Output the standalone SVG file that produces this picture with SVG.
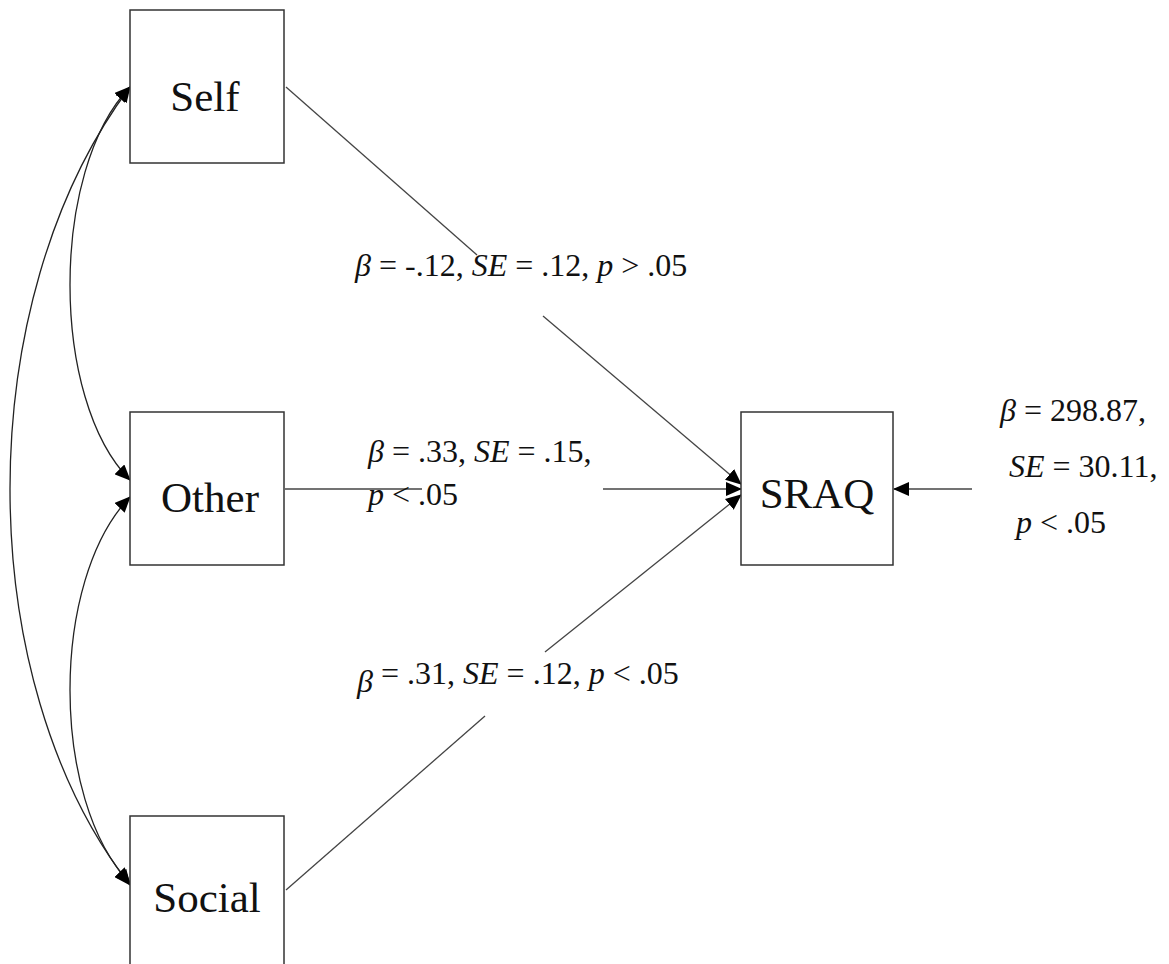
<svg xmlns="http://www.w3.org/2000/svg" width="1169" height="964" viewBox="0 0 1169 964">
<style>
.box{fill:#fff;stroke:#333;stroke-width:1.5}
.nlabel{font-family:"Liberation Serif","Times New Roman",serif;font-size:43px;fill:#111;text-anchor:middle}
.lab{font-family:"Liberation Serif","Times New Roman",serif;font-size:32px;fill:#111}
.it{font-style:italic}
.path{fill:none;stroke:#444;stroke-width:1.3}
.cov{fill:none;stroke:#222;stroke-width:1.3}
</style>
<defs>
<marker id="ah" markerUnits="userSpaceOnUse" markerWidth="16" markerHeight="14" refX="15" refY="7" orient="auto-start-reverse" viewBox="0 0 16 14">
<path d="M0,0 L16,7 L0,14 Z" fill="#000"/>
</marker>
</defs>
<rect width="1169" height="964" fill="#fff"/>
<g id="connectors">
<path class="cov" d="M130,87 C50,170 50,400 130,480" marker-start="url(#ah)" marker-end="url(#ah)"/>
<path class="cov" d="M130,87 C-30,300 -30,680 130,885" marker-start="url(#ah)" marker-end="url(#ah)"/>
<path class="cov" d="M130,497 C50,580 50,800 130,883" marker-start="url(#ah)" marker-end="url(#ah)"/>
<line class="path" x1="286" y1="87" x2="477" y2="255"/>
<line class="path" x1="543" y1="316" x2="741" y2="484" marker-end="url(#ah)"/>
<line class="path" x1="285" y1="489" x2="422" y2="489"/>
<line class="path" x1="603" y1="489" x2="741" y2="489" marker-end="url(#ah)"/>
<line class="path" x1="286" y1="890" x2="485" y2="716"/>
<line class="path" x1="545" y1="652" x2="741" y2="495" marker-end="url(#ah)"/>
<line class="path" x1="972" y1="489" x2="894" y2="489" marker-end="url(#ah)"/>
</g>
<g id="self">
<rect class="box" x="130" y="10" width="154" height="153"/>
<text class="nlabel" x="205" y="111">Self</text>
</g>
<g id="other">
<rect class="box" x="130" y="412" width="154" height="153"/>
<text class="nlabel" x="210" y="512">Other</text>
</g>
<g id="social">
<rect class="box" x="130" y="816" width="154" height="160"/>
<text class="nlabel" x="207" y="912">Social</text>
</g>
<g id="sraq">
<rect class="box" x="741" y="412" width="152" height="153"/>
<text class="nlabel" x="817" y="508">SRAQ</text>
</g>
<g id="labels">
<text class="lab" x="355" y="276"><tspan class="it">β</tspan> = -.12, <tspan class="it">SE</tspan> = .12, <tspan class="it">p</tspan> &gt; .05</text>
<text class="lab" x="368" y="462"><tspan class="it">β</tspan> = .33, <tspan class="it">SE</tspan> = .15,</text>
<text class="lab" x="368" y="505"><tspan class="it">p</tspan> &lt; .05</text>
<text class="lab" x="357" y="692"><tspan class="it">β</tspan></text>
<text class="lab" x="381" y="684">= .31, <tspan class="it">SE</tspan> = .12, <tspan class="it">p</tspan> &lt; .05</text>
<text class="lab" x="1000" y="421"><tspan class="it">β</tspan> = 298.87,</text>
<text class="lab" x="1009" y="477"><tspan class="it">SE</tspan> = 30.11,</text>
<text class="lab" x="1016" y="533"><tspan class="it">p</tspan> &lt; .05</text>
</g>
</svg>
